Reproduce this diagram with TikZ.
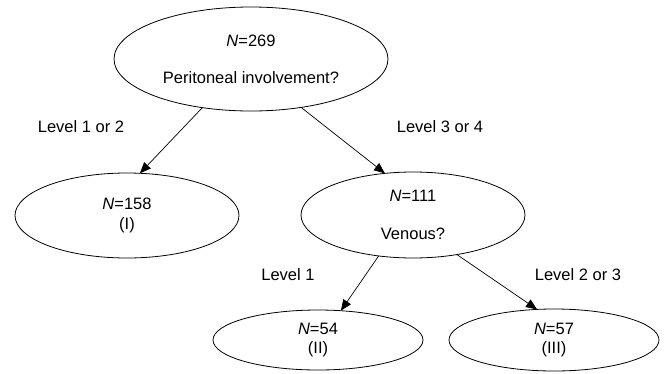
\documentclass[tikz,border=0pt]{standalone}
\usepackage{fontspec}
\setmainfont{Liberation Sans}
\usetikzlibrary{shapes.geometric,arrows.meta}
\begin{document}
\begin{tikzpicture}[x=1pt,y=-1pt,
  every node/.style={font=\fontsize{16.5}{19.8}\selectfont},
  oval/.style={ellipse,draw,line width=0.8pt,inner sep=0pt,outer sep=0pt,align=center},
  lbl/.style={inner sep=0pt},
  arr/.style={line width=0.7pt,-{Triangle[length=11pt,width=9pt]}}]
\useasboundingbox (0,0) rectangle (665,373);
\node[oval,minimum width=274pt,minimum height=104pt] (top) at (251,59)
  {\textit{N}=269\\[17pt]Peritoneal involvement?};
\node[oval,minimum width=224pt,minimum height=85pt] (one) at (127,215.5)
  {\textit{N}=158\\[0pt](I)};
\node[oval,minimum width=224pt,minimum height=86pt] (mid) at (413,215)
  {\textit{N}=111\\[18pt]Venous?};
\node[oval,minimum width=210pt,minimum height=60pt] (two) at (318,340)
  {\textit{N}=54\\[0pt](II)};
\node[oval,minimum width=210pt,minimum height=62pt] (three) at (554,340)
  {\textit{N}=57\\[0pt](III)};
\node[lbl] (l12) at (81,127) {Level 1 or 2};
\node[lbl] (l34) at (440,127) {Level 3 or 4};
\node[lbl] (l1) at (288,275) {Level 1};
\node[lbl] (l23) at (578,275) {Level 2 or 3};
\draw[arr] (top.225) -- (one.73);
\draw[arr] (top.316) -- (mid.124);
\draw[arr] (mid.230) -- (two.52);
\draw[arr] (mid.318) -- (three.119);
\end{tikzpicture}
\end{document}
